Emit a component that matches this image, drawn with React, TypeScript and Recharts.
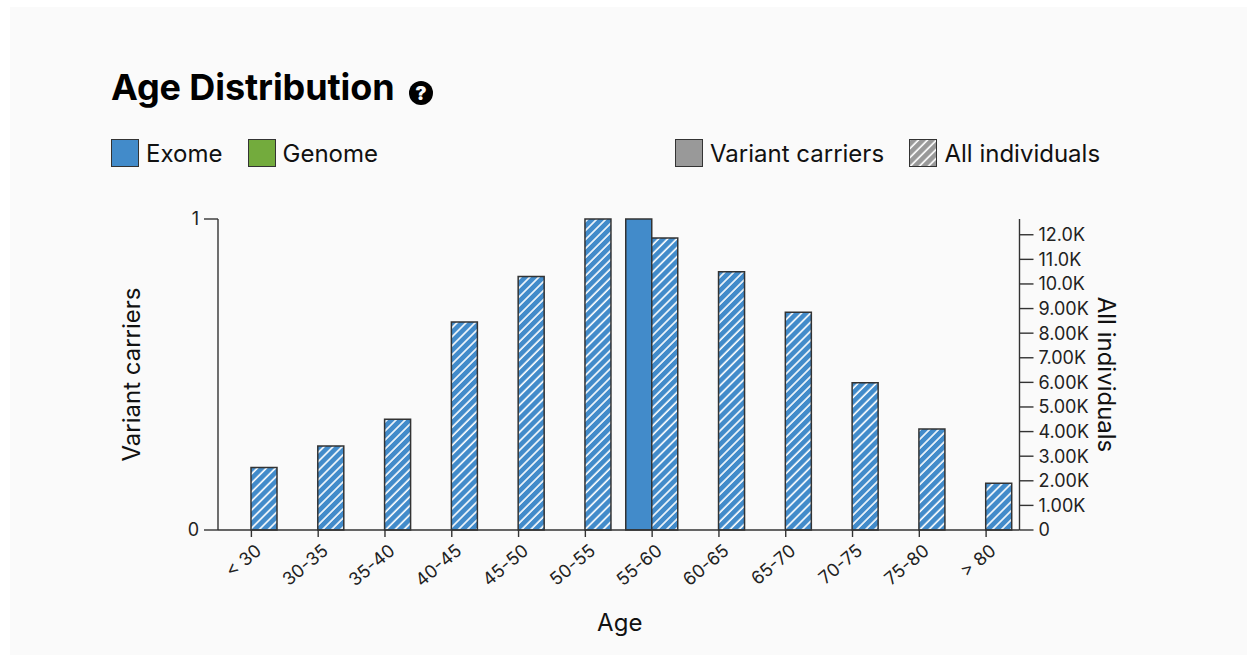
import React from "react";
import { BarChart, Bar, XAxis, YAxis } from "recharts";

const ageBins = ["< 30", "30-35", "35-40", "40-45", "45-50", "50-55", "55-60", "60-65", "65-70", "70-75", "75-80", "> 80"];
const variantCarriers = [0, 0, 0, 0, 0, 0, 1, 0, 0, 0, 0, 0];
const allIndividuals = [2540, 3410, 4500, 8450, 10300, 12640, 11870, 10500, 8850, 5980, 4100, 1900];

const leftTicks = [0, 1];
const rightTicks = [0, 1000, 2000, 3000, 4000, 5000, 6000, 7000, 8000, 9000, 10000, 11000, 12000];
const rightTickLabels = ["0", "1.00K", "2.00K", "3.00K", "4.00K", "5.00K", "6.00K", "7.00K", "8.00K", "9.00K", "10.0K", "11.0K", "12.0K"];

const data = ageBins.map((age, i) => ({
    age,
    carriers: variantCarriers[i],
    all: allIndividuals[i],
}));

const FONT = "Inter, sans-serif";
const BLUE = "#428bca";
const GREEN = "#73ab3d";
const GREY = "#999999";
const AXIS = "#333333";

const Stripes = ({ id, color, gap = 6.4, width = 1.6 }: { id: string; color: string; gap?: number; width?: number }) => (
    <pattern id={id} patternUnits="userSpaceOnUse" width={gap} height={gap} patternTransform="rotate(45)">
        <rect width={gap} height={gap} fill={color} />
        <line x1={1} y1={0} x2={1} y2={gap} stroke="#ffffff" strokeWidth={width} />
    </pattern>
);

const Swatch = ({ x, fill, hatch }: { x: number; fill: string; hatch?: boolean }) => (
    <svg width={28} height={28} style={{ position: "absolute", left: x, top: 139 }}>
        {hatch && (
            <defs>
                <Stripes id="legendStripes" color={fill} />
            </defs>
        )}
        <rect x={0.5} y={0.5} width={27} height={27} fill={hatch ? "url(#legendStripes)" : fill} stroke={AXIS} strokeWidth={1} />
    </svg>
);

const LegendText = ({ x, children }: { x: number; children: React.ReactNode }) => (
    <div style={{ position: "absolute", left: x, top: 138.5, fontSize: 24, lineHeight: "30px", color: "#111", whiteSpace: "nowrap" }}>
        {children}
    </div>
);

const App = () => {
    return (
        <div style={{ position: "absolute", left: 0, top: 0, width: 1247, height: 655, background: "#ffffff", overflow: "hidden", fontFamily: FONT }}>
            <div style={{ position: "absolute", left: 10, top: 7, width: 1237, height: 648, background: "#fafafa" }} />

            <div style={{ position: "absolute", left: 111, top: 65, fontSize: 36, lineHeight: "44px", fontWeight: 700, letterSpacing: -0.1, color: "#000", whiteSpace: "nowrap" }}>
                Age Distribution
            </div>
            <svg width={26} height={26} style={{ position: "absolute", left: 408, top: 80 }}>
                <circle cx={13} cy={13} r={12} fill="#000" />
                <text x={13} y={20} textAnchor="middle" fontSize={19} fontWeight={900} fill="#fafafa" fontFamily={FONT}>?</text>
            </svg>

            <Swatch x={111} fill={BLUE} />
            <LegendText x={146}>Exome</LegendText>
            <Swatch x={248} fill={GREEN} />
            <LegendText x={282.5}>Genome</LegendText>
            <Swatch x={675} fill={GREY} />
            <LegendText x={710}>Variant carriers</LegendText>
            <Swatch x={909} fill={GREY} hatch />
            <LegendText x={944.5}>All individuals</LegendText>

            <div style={{ position: "absolute", left: 0, top: 0 }}>
                <BarChart
                    width={1247}
                    height={655}
                    data={data}
                    margin={{ top: 219, right: 0, bottom: 0, left: 0 }}
                    barSize={26}
                    barGap={0}
                >
                    <defs>
                        <Stripes id="barStripes" color={BLUE} />
                    </defs>
                    <XAxis
                        dataKey="age"
                        height={125}
                        interval={0}
                        tickSize={7}
                        tickMargin={4}
                        angle={-40}
                        textAnchor="end"
                        axisLine={{ stroke: AXIS, strokeWidth: 1.4 }}
                        tickLine={{ stroke: AXIS, strokeWidth: 1.4 }}
                        tick={{ fill: "#222", fontSize: 18, fontFamily: FONT, dx: 3, dy: 2 }}
                        label={{ value: "Age", position: "insideBottom", offset: 24, dx: 1, fontSize: 24, fill: "#111", fontFamily: FONT }}
                    />
                    <YAxis
                        yAxisId="left"
                        orientation="left"
                        width={218}
                        domain={[0, 1]}
                        ticks={leftTicks}
                        interval={0}
                        tickSize={14}
                        tickMargin={5}
                        axisLine={{ stroke: AXIS, strokeWidth: 1.4 }}
                        tickLine={{ stroke: AXIS, strokeWidth: 1.4 }}
                        tick={{ fill: "#222", fontSize: 18, fontFamily: FONT }}
                        label={{ value: "Variant carriers", angle: -90, position: "insideLeft", offset: 131, fontSize: 24, fill: "#111", fontFamily: FONT, textAnchor: "middle" }}
                    />
                    <YAxis
                        yAxisId="right"
                        orientation="right"
                        width={227.5}
                        domain={[0, 12640]}
                        ticks={rightTicks}
                        interval={0}
                        tickSize={14}
                        tickMargin={5}
                        tickFormatter={(v: number) => rightTickLabels[rightTicks.indexOf(v)]}
                        axisLine={{ stroke: AXIS, strokeWidth: 1.4 }}
                        tickLine={{ stroke: AXIS, strokeWidth: 1.4 }}
                        tick={{ fill: "#222", fontSize: 18, fontFamily: FONT, textAnchor: "start" }}
                        label={{ value: "All individuals", angle: 90, position: "insideRight", offset: 140, fontSize: 24, fill: "#111", fontFamily: FONT, textAnchor: "middle" }}
                    />
                    <Bar yAxisId="left" dataKey="carriers" fill={BLUE} stroke={AXIS} strokeWidth={1.5} isAnimationActive={false} />
                    <Bar yAxisId="right" dataKey="all" fill="url(#barStripes)" stroke={AXIS} strokeWidth={1.5} isAnimationActive={false} />
                </BarChart>
            </div>
        </div>
    );
};

export default App;
